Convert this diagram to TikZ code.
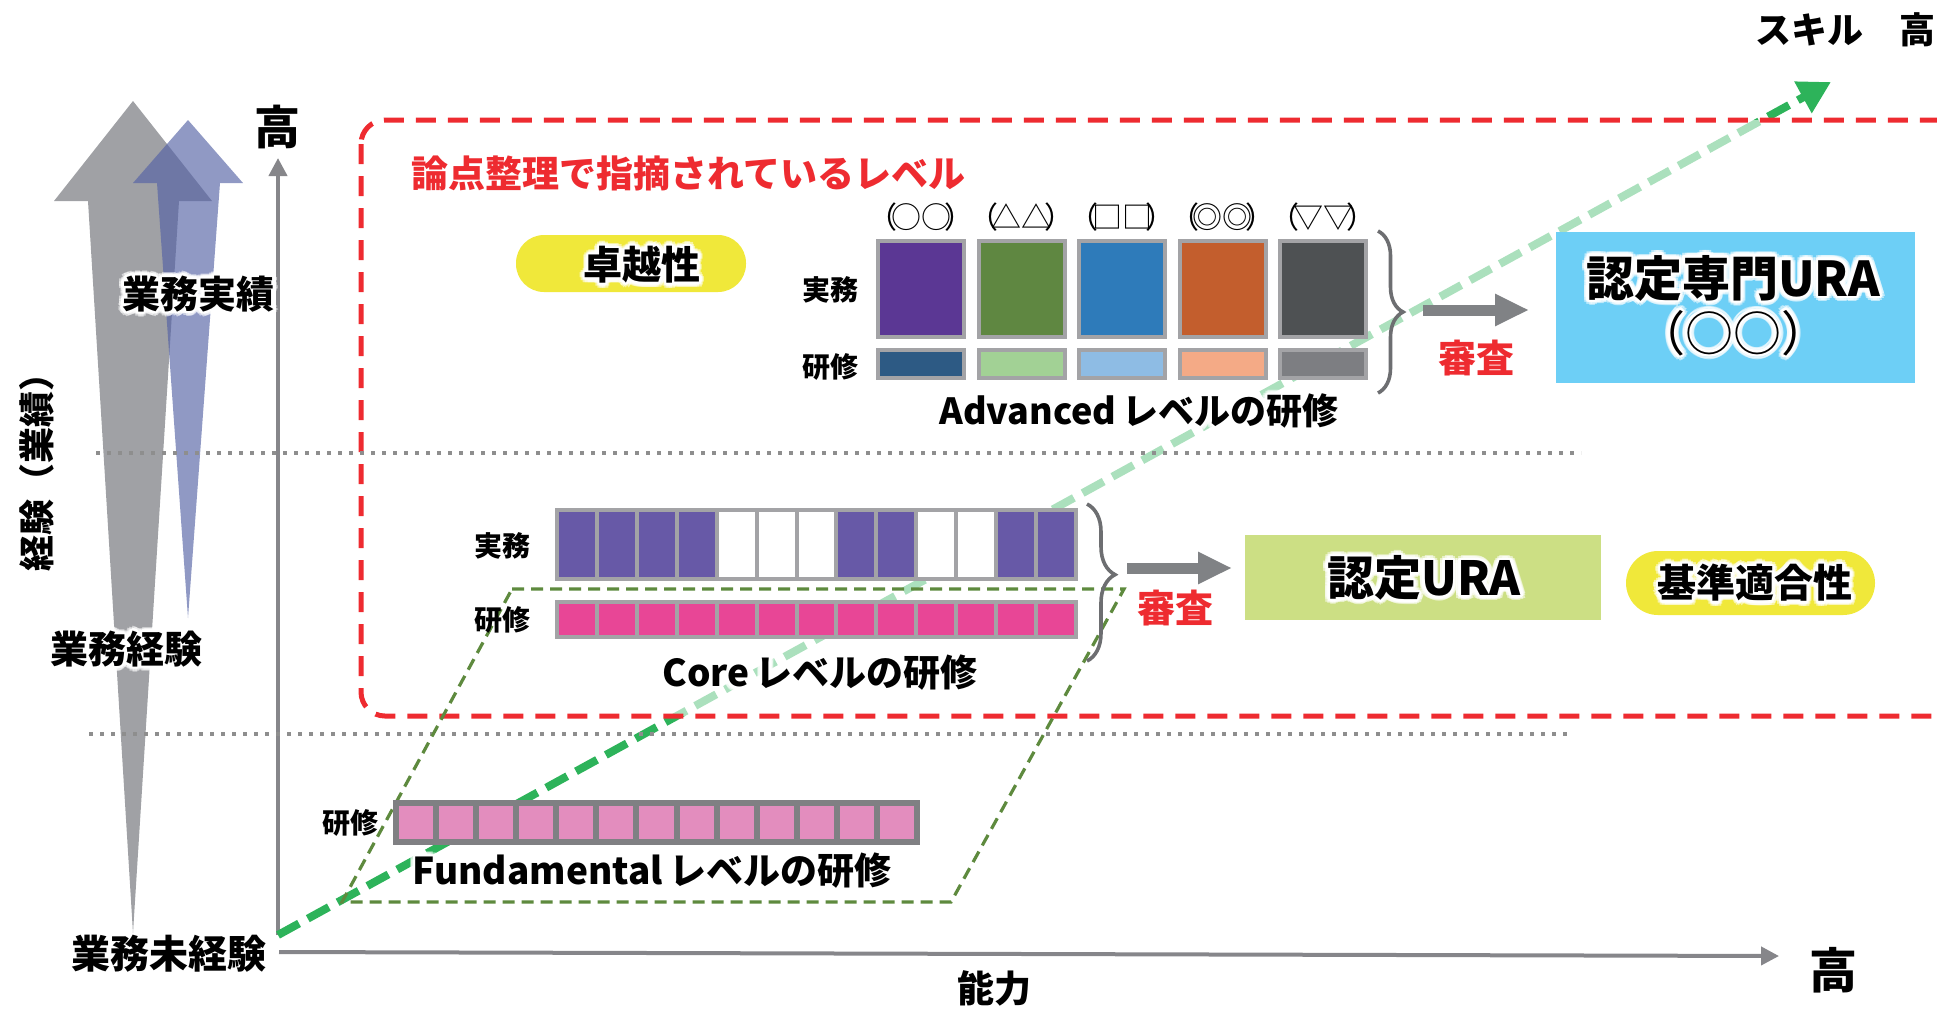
\documentclass[tikz,border=0pt]{standalone}
\usepackage{fontspec}
\setmainfont{Noto Sans CJK JP}
\usetikzlibrary{arrows.meta,decorations.pathreplacing,calc}
\definecolor{arrgray}{HTML}{A0A1A5}
\definecolor{arrblue}{RGB}{84,98,165}
\definecolor{axisgray}{HTML}{86868A}
\definecolor{dotgray}{HTML}{8E8E8E}
\definecolor{redd}{HTML}{EE2B30}
\definecolor{dgreen}{HTML}{2DB35A}
\definecolor{olive}{HTML}{5E8A3E}
\definecolor{framegray}{HTML}{A3A3A6}
\definecolor{fundgray}{HTML}{808083}
\definecolor{corepurple}{HTML}{6759A7}
\definecolor{corepink}{HTML}{E84696}
\definecolor{fundpink}{HTML}{E38DBE}
\definecolor{pillyellow}{HTML}{F0E83A}
\definecolor{urablue}{HTML}{6DCFF6}
\definecolor{uragreen}{HTML}{CCDF84}
\definecolor{bracegray}{HTML}{6D6E71}
\definecolor{blockgray}{HTML}{808285}
\definecolor{advA}{HTML}{5B3794}
\definecolor{advB}{HTML}{5F8741}
\definecolor{advC}{HTML}{2E7BBA}
\definecolor{advD}{HTML}{C35E2D}
\definecolor{advE}{HTML}{4E5153}
\definecolor{trA}{HTML}{2D5A84}
\definecolor{trB}{HTML}{A2D195}
\definecolor{trC}{HTML}{8EBCE4}
\definecolor{trD}{HTML}{F4AA86}
\definecolor{trE}{HTML}{7D7E82}
\newcommand\plab[1]{（\kern-.22em#1\kern-.22em）}
% #1 name, #2 position, #3 style, #4 text
\newcommand\glowtext[4]{%
  \foreach \ang [count=\k] in {0,30,...,330}{%
    \node[#3, text=white, opacity=0.55, name=#1-go\k] at ($(#2)+(\ang:5)$) {#4};
    \node[#3, text=white, name=#1-gi\k] at ($(#2)+(\ang:2.5)$) {#4};
  }%
  \node[#3, name=#1] at (#2) {#4};%
}
\begin{document}
\begin{tikzpicture}[x=0.5pt,y=-0.5pt,
  txt/.style={font={\bfseries\fontsize{#1pt}{#1pt}\selectfont}, inner sep=0pt},
  rtxt/.style={font={\fontsize{#1pt}{#1pt}\selectfont}, inner sep=0pt},
  axis/.style={draw=axisgray, line width=2pt, -{Triangle[length=9pt,width=9pt]}},
  dotline/.style={draw=dotgray, line width=2.2pt, dash pattern=on 2.2pt off 3.3pt},
  gline/.style={draw=dgreen, line width=4pt, dash pattern=on 12pt off 5pt, -{Triangle[length=16pt,width=17pt]}},
  redbox/.style={draw=redd, line width=2.5pt, dash pattern=on 10pt off 6pt, rounded corners=12pt},
  para/.style={draw=olive, line width=1.6pt, dash pattern=on 6pt off 3.5pt},
  blockarrow/.style={draw=blockgray, line width=5.5pt, -{Triangle[length=17pt,width=15pt]}},
  bracedec/.style={draw=bracegray, line width=1.8pt, decorate, decoration={brace, amplitude=#1}},
  advbox/.style={draw=framegray, line width=2pt, fill=#1},
]
\useasboundingbox (0,0) rectangle (1937,1008);
\clip (0,0) rectangle (1937,1008);

% growth arrows
\fill[arrgray] (133,101) -- (212,201) -- (179,201) -- (133,933) -- (88,201) -- (54,201) -- cycle;
\fill[arrblue, fill opacity=0.65] (188,120) -- (243,183) -- (220,183) -- (188,618) -- (157,183) -- (133,183) -- cycle;

% axes
\coordinate (O) at (278,935);
\coordinate (ytip) at (278,158);
\coordinate (xo) at (279,952);
\coordinate (xtip) at (1779,956);
\draw[axis] (O) -- (ytip);
\draw[axis] (xo) -- (xtip);

% skill arrow
\coordinate (gtip) at (1831,82);
\draw[gline] (O) -- (gtip);

% red region
\fill[white, fill opacity=0.6, rounded corners=12pt] (361,120) rectangle (1990,716);
\draw[redbox] (361,120) rectangle (1990,716);

% dotted separators
\draw[dotline] (96,453) -- (1581,453);
\draw[dotline] (89,734) -- (1573,734);

% parallelogram
\draw[para] (512,589) -- (1124,589) -- (951,902) -- (342,902) -- cycle;

% left texts
\node[txt=23] (hiY) at (277,127) {高};
\node[txt=18, rotate=90] (expAx) at (37,463) {経験（業績）};
\glowtext{jisseki}{198,294}{txt=19}{業務実績}
\glowtext{keiken}{126,649}{txt=19}{業務経験}
\node[txt=19.5] (mikeiken) at (169,954) {業務未経験};
\node[txt=18.5] (noryoku) at (994,988) {能力};
\node[txt=24] (hiX) at (1833,970) {高};
\node[txt=18, anchor=west] (skill) at (1755,30) {スキル　高};

% title
\node[txt=18.5, text=redd, anchor=west] (ronten) at (411,173) {論点整理で指摘されているレベル};

% takuetsu pill
\node[fill=pillyellow, rounded corners=14pt, minimum width=115pt, minimum height=28.5pt, inner sep=0pt] (takuPill) at (631,263.5) {};
\glowtext{taku}{642,265}{txt=19.5}{卓越性}

% Advanced
\foreach \lab/\ca/\cb [count=\i from 0] in {○○/advA/trA, △△/advB/trB, □□/advC/trC, ◎◎/advD/trD, ▽▽/advE/trE} {
  \pgfmathsetmacro\xl{878+\i*100.5}
  \draw[advbox=\ca] (\xl,241) rectangle ++(86,96);
  \draw[advbox=\cb] (\xl,350) rectangle ++(86,28);
  \node[rtxt=15, name=advlab\i] at (\xl+43,217) {\plab{\lab}};
}
\node[txt=14] (advJ) at (830,290) {実務};
\node[txt=14] (advK) at (830,367) {研修};
\glowtext{advT}{1139,411}{txt=18}{Advanced\,レベルの研修}
\draw[bracedec=12.5pt] (1378,231) -- (1378,393);
\coordinate (arA1) at (1423,310);
\coordinate (arA2) at (1529,310);
\draw[blockarrow] (arA1) -- (arA2);
\node[txt=19, text=redd] (shinsaA) at (1476,358) {審査};
\node[fill=urablue, inner sep=0pt, minimum width=179.5pt, minimum height=75.5pt] (uraS) at (1735.5,307.5) {};
\glowtext{uraS1}{1733,278}{txt=24}{認定専門URA}
\glowtext{uraS2}{1733,333}{rtxt=24}{（○○）}

% Core
\node[txt=14] (coreJ) at (502,546) {実務};
\node[txt=14] (coreK) at (502,620) {研修};
\fill[framegray] (555,508) rectangle (1078,581);
\foreach \col [count=\i from 0] in {corepurple,corepurple,corepurple,corepurple,white,white,white,corepurple,corepurple,white,white,corepurple,corepurple} {
  \pgfmathsetmacro\xa{559+\i*39.92}
  \fill[\col] (\xa,512) rectangle ++(35.92,65);
}
\fill[framegray] (555,600) rectangle (1078,639);
\foreach \i in {0,...,12} {
  \pgfmathsetmacro\xa{559+\i*39.92}
  \fill[corepink] (\xa,604) rectangle ++(35.92,31);
}
\draw[bracedec=14pt, decoration={aspect=0.45}] (1087,504) -- (1087,661);
\coordinate (arC1) at (1127,568);
\coordinate (arC2) at (1232,568);
\draw[blockarrow] (arC1) -- (arC2);
\node[txt=19, text=redd] (shinsaC) at (1175,608) {審査};
\node[fill=uragreen, inner sep=0pt, minimum width=178pt, minimum height=42.5pt] (uraC) at (1423,577.5) {};
\glowtext{uraC1}{1424,578}{txt=23.5}{認定URA}
\node[fill=pillyellow, rounded corners=16pt, minimum width=124.5pt, minimum height=32pt, inner sep=0pt] (kijunPill) at (1750.5,583) {};
\glowtext{kijun}{1755,583}{txt=19.5}{基準適合性}
\glowtext{coreT}{820,673}{txt=18.5}{Core\,レベルの研修}

% Fundamental
\node[txt=14] (fundK) at (350,823) {研修};
\fill[fundgray] (393,800) rectangle (920,845);
\foreach \i in {0,...,12} {
  \pgfmathsetmacro\xa{399+\i*40.08}
  \fill[fundpink] (\xa,806) rectangle ++(34.08,33);
}
\glowtext{fundT}{652,871}{txt=18.5}{Fundamental\,レベルの研修}
\end{tikzpicture}
\end{document}
